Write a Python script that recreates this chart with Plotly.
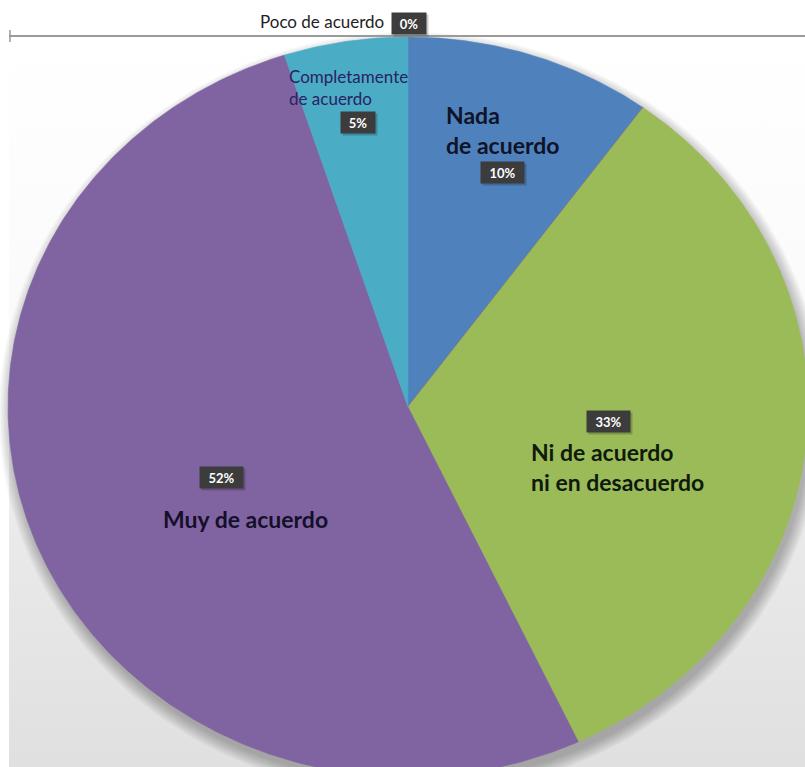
import numpy as np
import plotly.graph_objects as go

# Survey answers, in the order the slices run clockwise from 12 o'clock
categories = [
    "Nada de acuerdo",
    "Poco de acuerdo",
    "Ni de acuerdo ni en desacuerdo",
    "Muy de acuerdo",
    "Completamente de acuerdo",
]
values = [10, 0, 33, 52, 5]
colors = ["#4F81BD", "#C0504D", "#9BBB59", "#8064A2", "#4BACC6"]

# Text shown for each answer (line breaks as on the chart)
label_text = [
    "Nada<br>de acuerdo",
    "Poco de acuerdo",
    "Ni de acuerdo<br>ni en desacuerdo",
    "Muy de acuerdo",
    "Completamente<br>de acuerdo",
]

# ---- layout geometry (pixels) ----
W, H = 805, 767
CX, CY = 408, 407          # pie centre
RX, RY = 400, 370          # pie radii (the pie is drawn slightly wide)
FRAME_LEFT, FRAME_TOP = 9, 36

x_range = [-CX / RX, (W - CX) / RX]
y_range = [-(H - CY) / RY, CY / RY]


def ax_x(px):
    return (px - CX) / RX


def ax_y(py):
    return (CY - py) / RY


fig = go.Figure()

# background panel: white at the top fading to light grey at the bottom
bx0, bx1 = ax_x(FRAME_LEFT), ax_x(W)
by0, by1 = ax_y(H), ax_y(FRAME_TOP)
fig.add_trace(go.Scatter(
    x=[bx0, bx1, bx1, bx0, bx0], y=[by0, by0, by1, by1, by0],
    mode="lines", line=dict(width=0), fill="toself",
    fillgradient=dict(type="vertical",
                      colorscale=[[0, "#e0e0e0"], [0.3, "#e9e9e9"],
                                  [0.6, "#fafafa"], [1, "#ffffff"]],
                      start=by0, stop=by1),
    hoverinfo="skip", showlegend=False,
))

# soft drop shadow behind the pie, cast slightly downward
theta = np.linspace(0, 2 * np.pi, 361)
for grow in np.linspace(12, 0, 9):
    sx = (RX + grow) / RX
    sy = (RY + grow) / RY
    fig.add_trace(go.Scatter(
        x=sx * np.sin(theta) + 3 / RX, y=sy * np.cos(theta) - 7 / RY,
        mode="lines", line=dict(width=0), fill="toself",
        fillcolor="rgba(0,0,0,0.03)", hoverinfo="skip", showlegend=False,
    ))

# pie slices, clockwise from the top
total = float(sum(values))
start = 0.0
for cat, val, col in zip(categories, values, colors):
    frac = val / total
    n = max(2, int(frac * 720) + 2)
    t = np.linspace(start, start + frac, n) * 2 * np.pi
    xs = np.concatenate([[0.0], np.sin(t), [0.0]])
    ys = np.concatenate([[0.0], np.cos(t), [0.0]])
    fig.add_trace(go.Scatter(
        x=xs, y=ys, mode="lines", fill="toself", fillcolor=col,
        line=dict(width=0.6, color=col), name=cat,
        hovertemplate=f"{cat}: {val}%<extra></extra>", showlegend=False,
    ))
    start += frac

# ---- labels ----
FONT = "Lato, 'Open Sans', sans-serif"
name_style = {
    # category: (x px, y px, anchor, size, weight, colour)
    "Nada de acuerdo": (444, 130, "left", 23, "bold", "#0f1328"),
    "Poco de acuerdo": (386, 21, "right", 17, "normal", "#1e1e1e"),
    "Ni de acuerdo ni en desacuerdo": (529, 467, "left", 23, "bold", "#101a0c"),
    "Muy de acuerdo": (245, 519, "center", 23, "bold", "#140f2a"),
    "Completamente de acuerdo": (287, 87, "left", 17, "normal", "#2a2263"),
}
pct_pos = {
    "Nada de acuerdo": (502, 172),
    "Poco de acuerdo": (409, 23),
    "Ni de acuerdo ni en desacuerdo": (608, 421),
    "Muy de acuerdo": (221, 477),
    "Completamente de acuerdo": (358, 122),
}

annotations = []
for cat, val, txt in zip(categories, values, label_text):
    x, y, anchor, size, weight, col = name_style[cat]
    annotations.append(dict(
        x=ax_x(x), y=ax_y(y), xref="x", yref="y", text=txt, showarrow=False,
        xanchor=anchor, yanchor="middle", align=anchor,
        font=dict(family=FONT, size=size, weight=weight, color=col),
    ))
    px_, py_ = pct_pos[cat]
    pct = f"{val}%"
    box_w = 14 + 9 * len(pct)
    annotations.append(dict(
        x=ax_x(px_ + 2), y=ax_y(py_ + 2), xref="x", yref="y", text=pct,
        showarrow=False, xanchor="center", yanchor="middle",
        width=box_w, height=19, borderpad=1,
        bgcolor="rgba(0,0,0,0.2)", font=dict(size=1, color="rgba(0,0,0,0)"),
    ))
    annotations.append(dict(
        x=ax_x(px_), y=ax_y(py_), xref="x", yref="y", text=pct,
        showarrow=False, xanchor="center", yanchor="middle",
        width=box_w, height=19, borderpad=1,
        bgcolor="#3c3c3c",
        font=dict(family=FONT, size=13, weight="bold", color="#ffffff"),
    ))

# frame line along the top of the chart, with its small end tick
shapes = [
    dict(type="line", xref="x", yref="y",
         x0=ax_x(FRAME_LEFT), x1=ax_x(W), y0=ax_y(FRAME_TOP), y1=ax_y(FRAME_TOP),
         line=dict(color="#9a9a9a", width=2), layer="above"),
    dict(type="line", xref="x", yref="y",
         x0=ax_x(FRAME_LEFT + 1), x1=ax_x(FRAME_LEFT + 1),
         y0=ax_y(FRAME_TOP - 6), y1=ax_y(FRAME_TOP + 6),
         line=dict(color="#9a9a9a", width=1.5), layer="above"),
]

fig.update_layout(
    width=W, height=H,
    margin=dict(l=0, r=0, t=0, b=0),
    paper_bgcolor="#ffffff", plot_bgcolor="rgba(0,0,0,0)",
    xaxis=dict(range=x_range, visible=False, fixedrange=True),
    yaxis=dict(range=y_range, visible=False, fixedrange=True),
    annotations=annotations, shapes=shapes,
    showlegend=False,
)

fig.write_html("out.html")
